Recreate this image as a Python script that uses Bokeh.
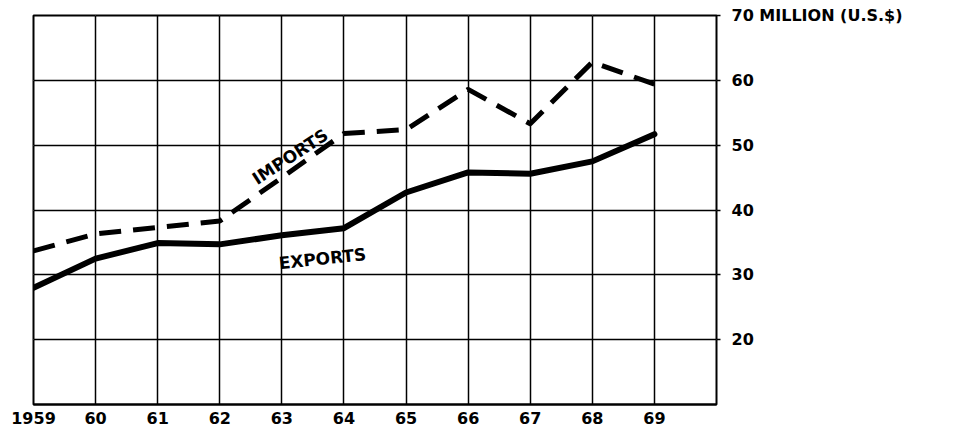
from bokeh.plotting import figure
from bokeh.models import Range1d, LinearAxis, FixedTicker, Grid, Label
from bokeh.embed import file_html
from bokeh.resources import INLINE

# ---- data ----
years = [1959, 1960, 1961, 1962, 1963, 1964, 1965, 1966, 1967, 1968, 1969]
year_labels = ["1959", "60", "61", "62", "63", "64", "65", "66", "67", "68", "69"]
imports = [33.7, 36.3, 37.3, 38.3, 45.0, 51.8, 52.4, 58.6, 53.3, 62.8, 59.4]
exports = [28.0, 32.5, 34.9, 34.7, 36.1, 37.2, 42.7, 45.8, 45.6, 47.5, 51.7]
value_ticks = [20, 30, 40, 50, 60, 70]
value_labels = ["20", "30", "40", "50", "60", "70 MILLION (U.S.$)"]
grid_years = years + [1970]
grid_values = [10, 20, 30, 40, 50, 60, 70]

FONT = "DejaVu Sans"

p = figure(
    frame_width=683, frame_height=389,
    x_range=Range1d(1959, 1970), y_range=Range1d(10, 70),
    x_axis_location=None, y_axis_location=None,
    output_backend="svg", toolbar_location=None,
    min_border_left=33, min_border_top=15, min_border_right=10, min_border_bottom=0,
)
p.background_fill_color = "white"
p.border_fill_color = "white"
p.outline_line_color = "black"
p.outline_line_width = 2

xg = Grid(dimension=0, ticker=FixedTicker(ticks=grid_years),
          grid_line_color="black", grid_line_width=1.5)
yg = Grid(dimension=1, ticker=FixedTicker(ticks=grid_values),
          grid_line_color="black", grid_line_width=1.5)
p.add_layout(xg)
p.add_layout(yg)

xaxis = LinearAxis(
    ticker=FixedTicker(ticks=years),
    major_label_overrides={y: l for y, l in zip(years, year_labels)},
    axis_line_color="black", axis_line_width=2,
    major_tick_in=0, major_tick_out=0, minor_tick_line_color=None,
    major_label_standoff=7,
    major_label_text_font=FONT, major_label_text_font_style="bold",
    major_label_text_font_size="16px", major_label_text_color="black",
)
p.add_layout(xaxis, "below")

yaxis = LinearAxis(
    ticker=FixedTicker(ticks=value_ticks),
    major_label_overrides={v: l for v, l in zip(value_ticks, value_labels)},
    axis_line_color=None,
    major_tick_in=0, major_tick_out=4, major_tick_line_width=1.5,
    major_tick_line_color="black", minor_tick_line_color=None,
    major_label_standoff=11,
    major_label_text_font=FONT, major_label_text_font_style="bold",
    major_label_text_font_size="16px", major_label_text_color="black",
)
p.add_layout(yaxis, "right")

p.line(years, imports, line_color="black", line_width=5, line_dash="22 12",
       line_join="round")
p.line(years, exports, line_color="black", line_width=6, line_join="round",
       line_cap="round")

p.add_layout(Label(x=1962.55, y=44.6, text="IMPORTS", angle=33, angle_units="deg",
                   text_font=FONT, text_font_style="bold", text_font_size="17px",
                   text_color="black", text_baseline="alphabetic", text_align="left"))
p.add_layout(Label(x=1962.95, y=31.8, text="EXPORTS", angle=6, angle_units="deg",
                   text_font=FONT, text_font_style="bold", text_font_size="17px",
                   text_color="black", text_baseline="alphabetic", text_align="left"))

open("out.html", "w").write(file_html(p, INLINE))
